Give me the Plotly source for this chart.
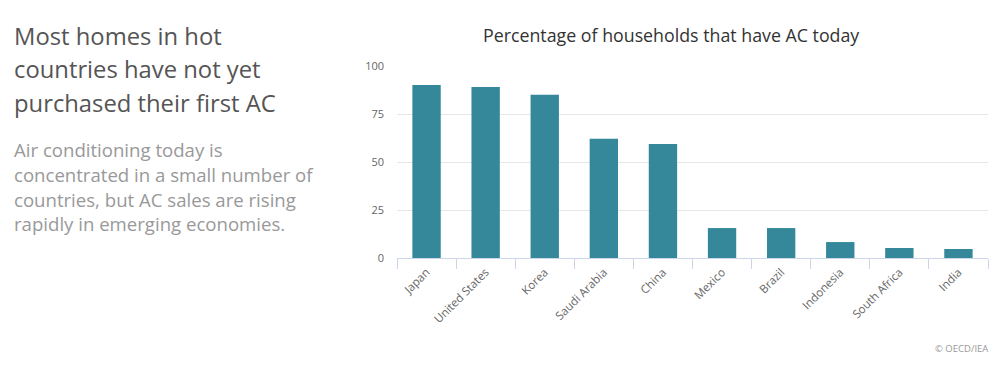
import plotly.graph_objects as go

countries = ["Japan", "United States", "Korea", "Saudi Arabia", "China",
             "Mexico", "Brazil", "Indonesia", "South Africa", "India"]
ac_share = [90.1, 89.1, 85.0, 62.1, 59.4, 15.6, 15.6, 8.3, 5.2, 4.7]
y_ticks = [0, 25, 50, 75, 100]

chart_title = "Percentage of households that have AC today"
headline_lines = ["Most homes in hot", "countries have not yet", "purchased their first AC"]
sub_lines = ["Air conditioning today is", "concentrated in a small number of",
             "countries, but AC sales are rising", "rapidly in emerging economies."]
credit = "\u00a9 OECD/IEA"

OFF = 8  # page body margin
W, H = 1002 - OFF, 368 - OFF
L, T = 397 - OFF, 66 - OFF
R = W - (988 - OFF)
B = H - (258 - OFF)
FONT = "Open Sans, Noto Sans, sans-serif"

def px_x(x):
    return (x - OFF - L) / (W - L - R)

def px_y(y):
    return 1 - (y - OFF - T) / (H - T - B)

fig = go.Figure(go.Bar(
    x=countries, y=ac_share, marker_color="#358899", marker_line_width=0,
    width=0.48, hoverinfo="x+y"))

ann = []
for i, line in enumerate(headline_lines):
    ann.append(dict(text=line, x=px_x(12), y=px_y(36 + i * 33.5), xref="paper", yref="paper",
                    xanchor="left", yanchor="middle", showarrow=False,
                    font=dict(family=FONT, size=23.8, color="#555555")))
for i, line in enumerate(sub_lines):
    ann.append(dict(text=line, x=px_x(12), y=px_y(149.5 + i * 24.8), xref="paper", yref="paper",
                    xanchor="left", yanchor="middle", showarrow=False,
                    font=dict(family=FONT, size=18.6, color="#999999")))
ann.append(dict(text=chart_title, x=px_x(671), y=px_y(34.5), xref="paper", yref="paper",
                xanchor="center", yanchor="middle", showarrow=False,
                font=dict(family=FONT, size=17.8, color="#333333")))
ann.append(dict(text=credit, x=px_x(990), y=px_y(348), xref="paper", yref="paper",
                xanchor="right", yanchor="middle", showarrow=False,
                font=dict(family=FONT, size=9.5, color="#999999")))

fig.update_layout(
    width=W, height=H, margin=dict(l=L, r=R, t=T, b=B, autoexpand=False),
    paper_bgcolor="white", plot_bgcolor="white", showlegend=False,
    font=dict(family=FONT, color="#666666", size=11),
    bargap=0.52, annotations=ann,
    xaxis=dict(type="category", tickangle=-45, showgrid=False, showline=True,
               linecolor="#ccd6eb", linewidth=1, ticks="outside", tickson="boundaries",
               ticklen=10, tickcolor="#ccd6eb", tickfont=dict(size=11.5, color="#666666"),
               ticklabelstandoff=2, fixedrange=True),
    yaxis=dict(range=[0, 100], tickvals=y_ticks, showgrid=True, gridcolor="#e6e6e6",
               zeroline=False, showline=False, ticks="", ticklabelstandoff=12,
               tickfont=dict(size=11, color="#666666"), fixedrange=True),
)

fig.write_html("out.html")
